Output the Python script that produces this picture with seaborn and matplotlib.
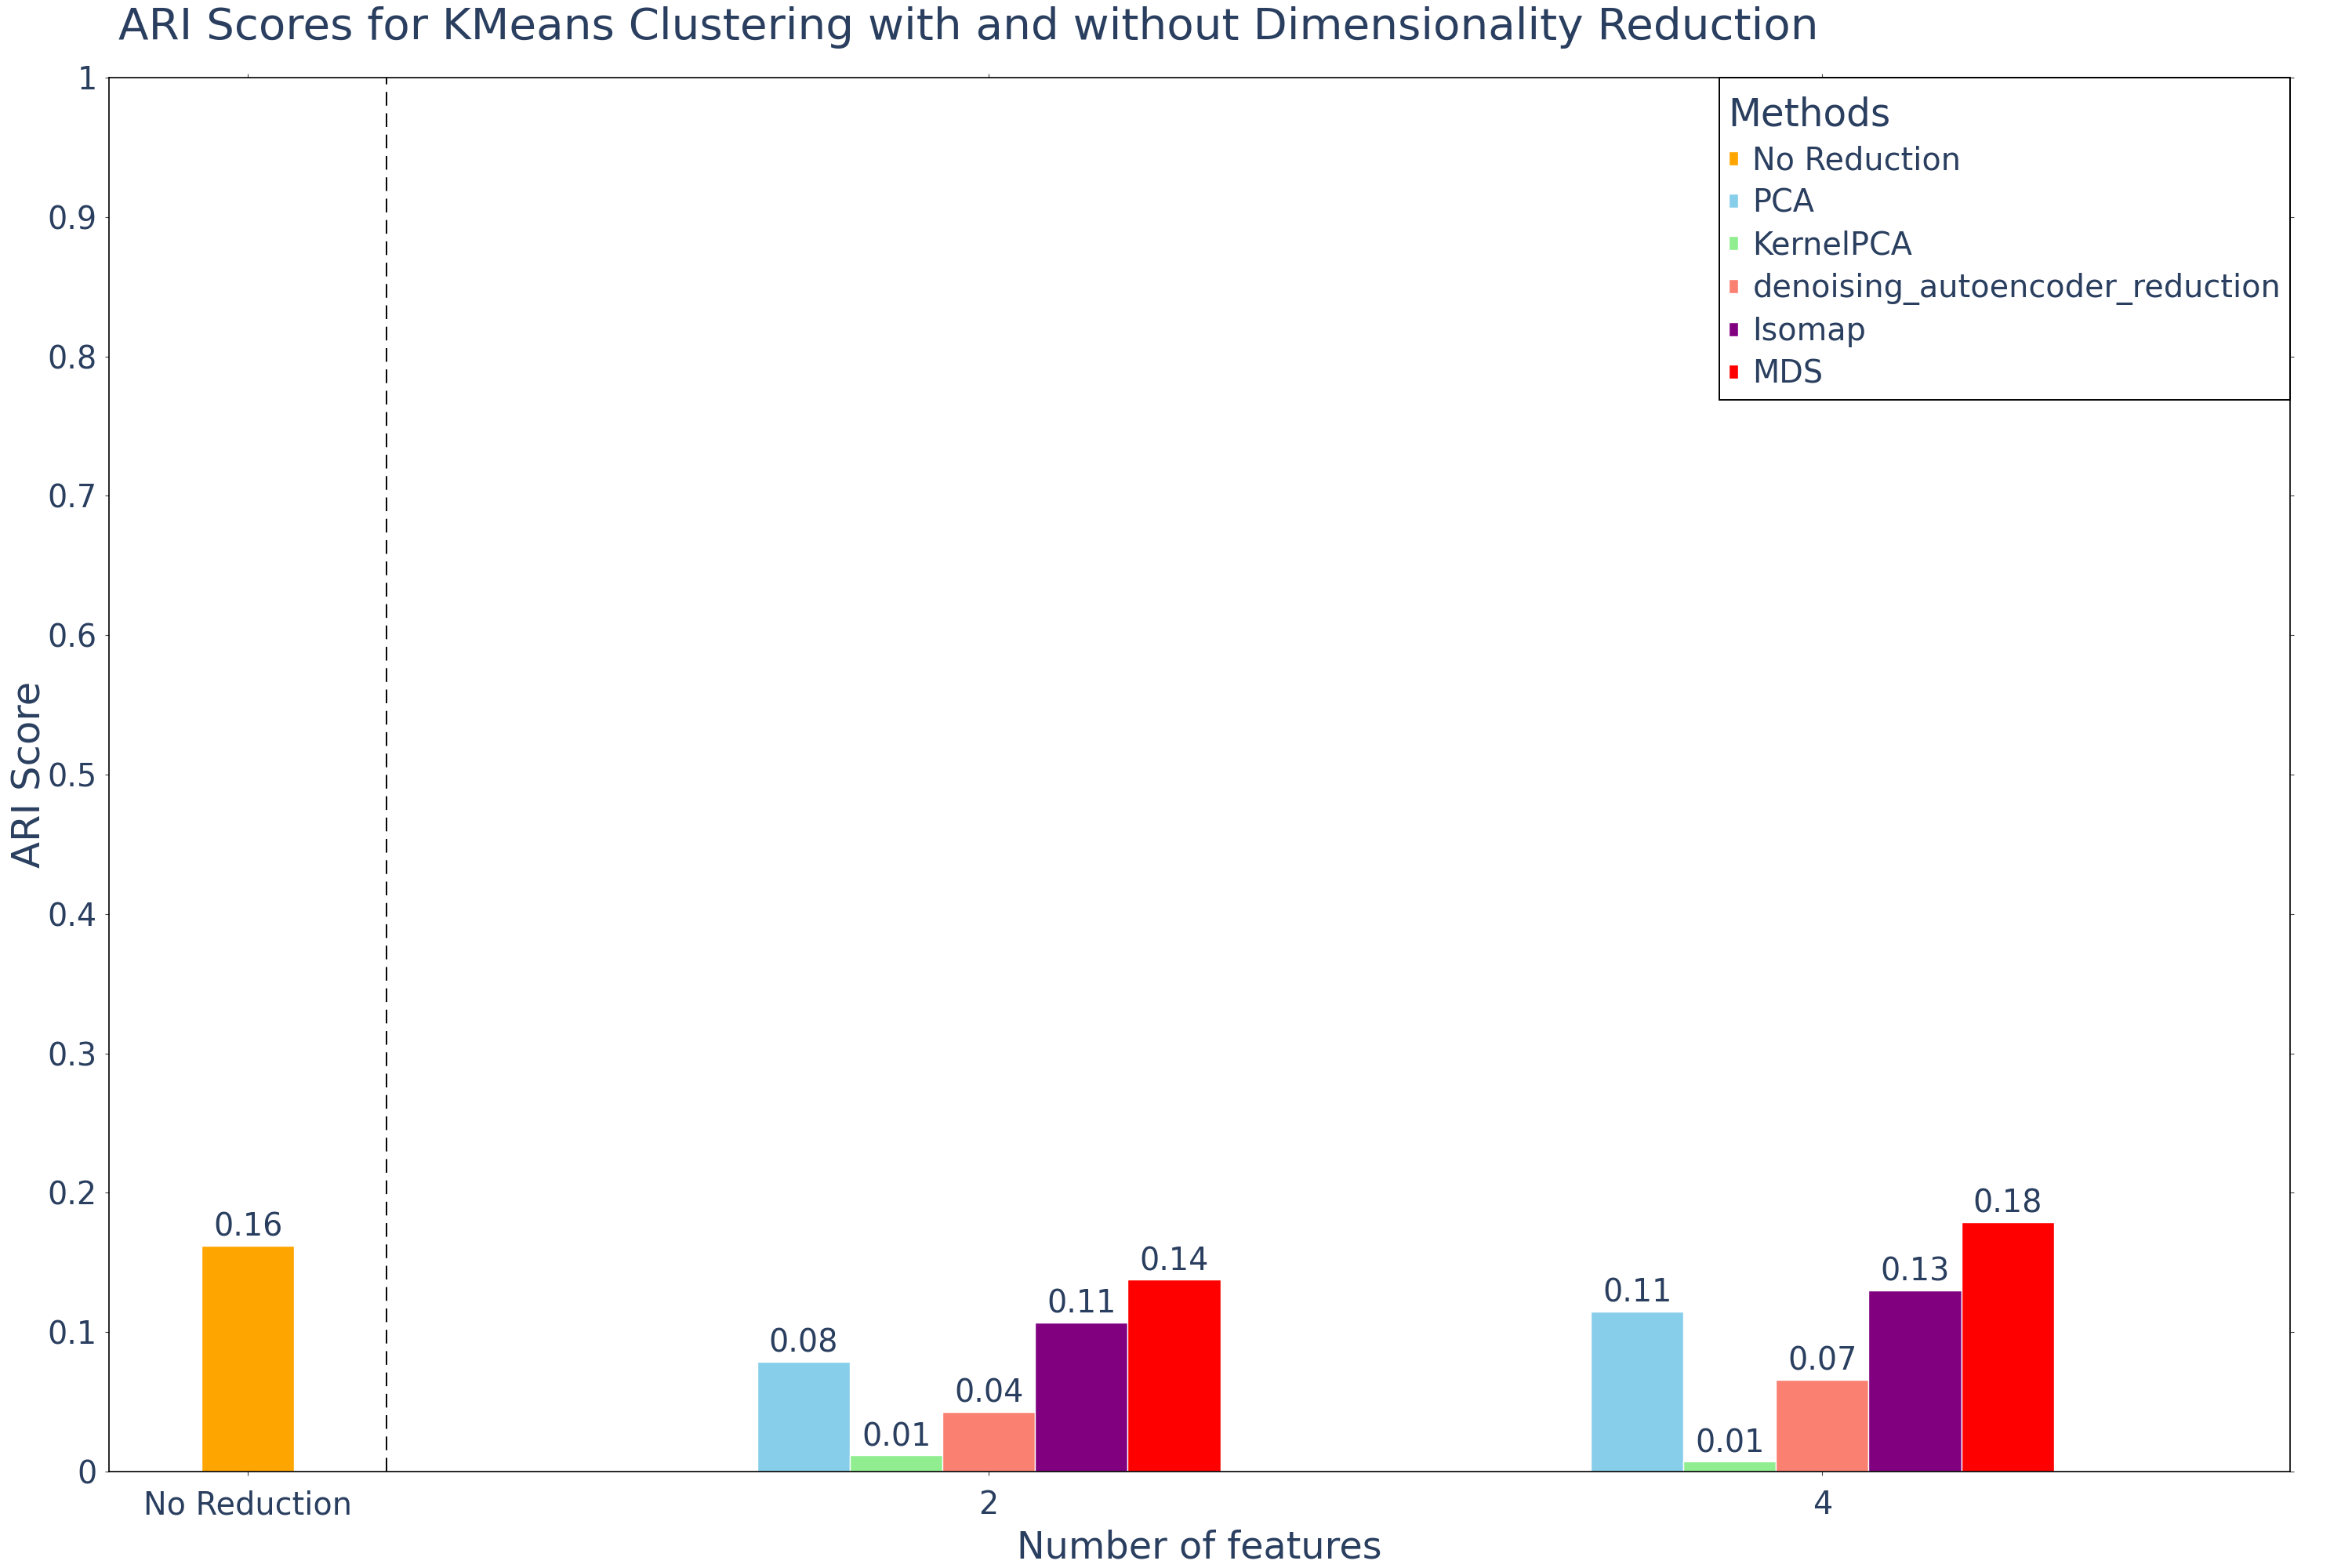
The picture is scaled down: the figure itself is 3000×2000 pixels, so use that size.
import pandas as pd, numpy as np
import matplotlib
matplotlib.use('Agg')
import matplotlib.pyplot as plt
from matplotlib.offsetbox import VPacker, DrawingArea
import seaborn as sns

# ARI scores
methods = ['No Reduction', 'PCA', 'KernelPCA', 'denoising_autoencoder_reduction', 'Isomap', 'MDS']
colors = ['#FFA500', '#87CEEB', '#90EE90', '#FA8072', '#800080', '#FF0000']
no_reduction_score = [0.162]
reduction_methods = ['PCA', 'KernelPCA', 'denoising_autoencoder_reduction', 'Isomap', 'MDS']
n_features = ['2', '4']
scores_2 = [0.0786, 0.0116, 0.0426, 0.1071, 0.1376]
scores_4 = [0.1146, 0.0071, 0.0658, 0.1299, 0.1787]

# layout: group centres on the x axis (in bar widths)
group_centre = {'No Reduction': 1.5, '2': 9.5, '4': 18.5}
divider_x = 3.0
x_max = 23.55

TEXT = '#2a3f5f'

def build_frame():
    rows = [{'method': 'No Reduction', 'group': 'No Reduction', 'score': no_reduction_score[0], 'xpos': group_centre['No Reduction']}]
    for grp, vals in zip(n_features, [scores_2, scores_4]):
        offsets = np.arange(len(reduction_methods)) - (len(reduction_methods) - 1) / 2
        for m, v, off in zip(reduction_methods, vals, offsets):
            rows.append({'method': m, 'group': grp, 'score': v, 'xpos': group_centre[grp] + off})
    return pd.DataFrame(rows)

def main():
    df = build_frame()
    sns.set_style('ticks')
    plt.rcParams['font.family'] = ['DejaVu Sans']
    plt.rcParams['text.color'] = TEXT

    fig = plt.figure(figsize=(15, 10), dpi=200)
    ax = fig.add_axes([0.04633, 0.0615, 0.92733, 0.889])

    sns.barplot(data=df, x='xpos', y='score', hue='method', hue_order=methods,
                palette=dict(zip(methods, colors)), native_scale=True, dodge=False,
                width=1.0, errorbar=None, edgecolor='white', linewidth=0.5,
                saturation=1, ax=ax)

    for cont in ax.containers:
        ax.bar_label(cont, fmt='%.2f', padding=1.2, fontsize=14.3, color=TEXT)

    ax.axvline(divider_x, color='black', lw=0.7, ls=(0, (9, 5)))

    ax.set_xlim(0, x_max)
    ax.set_ylim(0, 1)
    ax.set_xticks([group_centre[k] for k in group_centre])
    ax.set_xticklabels(list(group_centre.keys()))
    yt = np.round(np.arange(0, 1.01, 0.1), 1)
    ax.set_yticks(yt)
    ax.set_yticklabels([f'{v:g}' for v in yt])

    for s in ax.spines.values():
        s.set_visible(True)
        s.set_color('black')
        s.set_linewidth(0.6)
    ax.tick_params(axis='both', which='major', direction='out', length=1.9, width=0.4,
                   color='#444444', labelsize=14.3, labelcolor=TEXT,
                   top=True, right=True, labeltop=False, labelright=False)
    ax.tick_params(axis='x', pad=6.5)
    ax.tick_params(axis='y', pad=3.6)

    ax.set_xlabel('Number of features', fontsize=17.2, color=TEXT, va='baseline')
    ax.xaxis.set_label_coords(0.5, -0.0624)
    ax.set_ylabel('ARI Score', fontsize=17.9, color=TEXT)
    ax.yaxis.set_label_coords(-0.0277, 0.5)

    fig.text(0.0503, 0.975, 'ARI Scores for KMeans Clustering with and without Dimensionality Reduction',
             fontsize=20.3, color=TEXT, ha='left', va='baseline')

    sns.move_legend(ax, 'upper right', bbox_to_anchor=(1.0, 1.0), borderaxespad=0,
                    title='Methods', frameon=True, fancybox=False, framealpha=1,
                    edgecolor='black', fontsize=14.3, title_fontsize=17.5,
                    handlelength=0.32, handleheight=0.32, handletextpad=0.45,
                    labelspacing=0.36, borderpad=0.3, alignment='left')
    leg = ax.get_legend()
    leg.get_frame().set_linewidth(0.7)
    leg.get_title().set_color(TEXT)
    for t in leg.get_texts():
        t.set_color(TEXT)
    # extra room above the legend title, as in the reference
    title_box = leg._legend_box._children[0]
    leg._legend_box._children[0] = VPacker(children=[DrawingArea(1, 4.3), title_box],
                                           pad=0, sep=0, align='left')

    fig.savefig('out.png', dpi=200)

if __name__ == '__main__':
    main()
